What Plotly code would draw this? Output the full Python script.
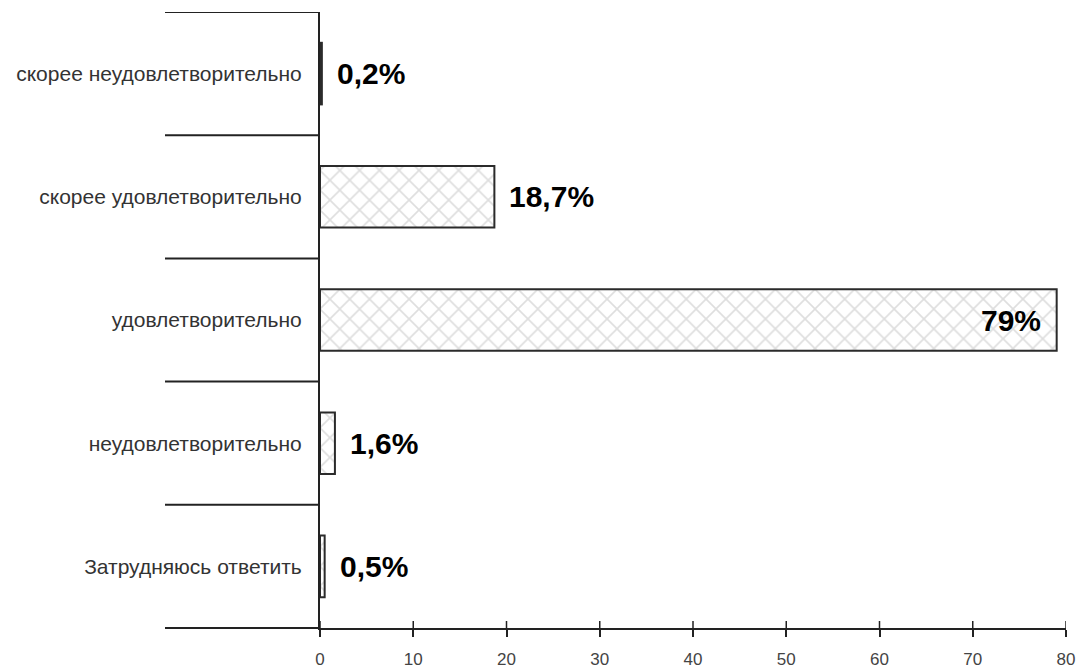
import plotly.graph_objects as go

categories = [
    "Затрудняюсь ответить",
    "неудовлетворительно",
    "удовлетворительно",
    "скорее удовлетворительно",
    "скорее неудовлетворительно",
]
values = [0.5, 1.6, 79, 18.7, 0.2]
value_labels = ["0,5%", "1,6%", "79%", "18,7%", "0,2%"]
x_ticks = [0, 10, 20, 30, 40, 50, 60, 70, 80]

fig = go.Figure()

fig.add_trace(
    go.Bar(
        x=values,
        y=categories,
        orientation="h",
        width=0.5,
        marker=dict(
            color="white",
            line=dict(color="#2b2b2b", width=2),
            pattern=dict(shape="x", fgcolor="#bdbdbd", bgcolor="white",
                         size=14, solidity=0.22),
        ),
        hoverinfo="skip",
    )
)

# value labels: outside for short bars, inside the end for the long one
for cat, val, lab in zip(categories, values, value_labels):
    inside = val > 50
    fig.add_annotation(
        x=val, y=cat, text=lab, showarrow=False,
        xanchor="right" if inside else "left",
        xshift=-14 if inside else 13,
        font=dict(family="Liberation Sans, Arial", size=30, color="black",
                  weight="bold"),
    )

# category separators sticking out to the left of the axis
for i in range(len(categories) + 1):
    fig.add_shape(
        type="line", xref="paper", yref="y",
        xsizemode="pixel", xanchor=0, x0=-155, x1=0,
        y0=i - 0.5, y1=i - 0.5,
        line=dict(color="#222", width=2),
    )

# x-axis line extension to the left
fig.add_shape(
    type="line", xref="paper", yref="paper",
    xsizemode="pixel", xanchor=0, x0=-155, x1=0, y0=0, y1=0,
    line=dict(color="#222", width=2),
)

# upper half of the crossing tick marks
for t in x_ticks:
    fig.add_shape(
        type="line", xref="x", yref="paper",
        ysizemode="pixel", yanchor=0, y0=0, y1=7, x0=t, x1=t,
        line=dict(color="#222", width=1.5),
    )

fig.update_xaxes(
    range=[0, 80], tickvals=x_ticks, ticks="outside", ticklen=7,
    tickwidth=1.5, tickcolor="#222", showline=True, linecolor="#222",
    linewidth=2, showgrid=False, zeroline=False, ticklabelstandoff=8,
    tickfont=dict(family="Liberation Sans, Arial", size=17, color="#444"),
)
fig.update_yaxes(
    range=[-0.5, 4.5], showline=True, linecolor="#222", linewidth=2,
    showgrid=False, zeroline=False, ticks="", ticklabelstandoff=12,
    tickfont=dict(family="Liberation Sans, Arial", size=21, color="#333"),
)

# page body adds 8px offset, margins compensate for it
fig.update_layout(
    width=1085, height=671,
    margin=dict(l=312, r=27, t=4, b=51),
    plot_bgcolor="white", paper_bgcolor="white",
    showlegend=False,
)

fig.write_html("out.html")
